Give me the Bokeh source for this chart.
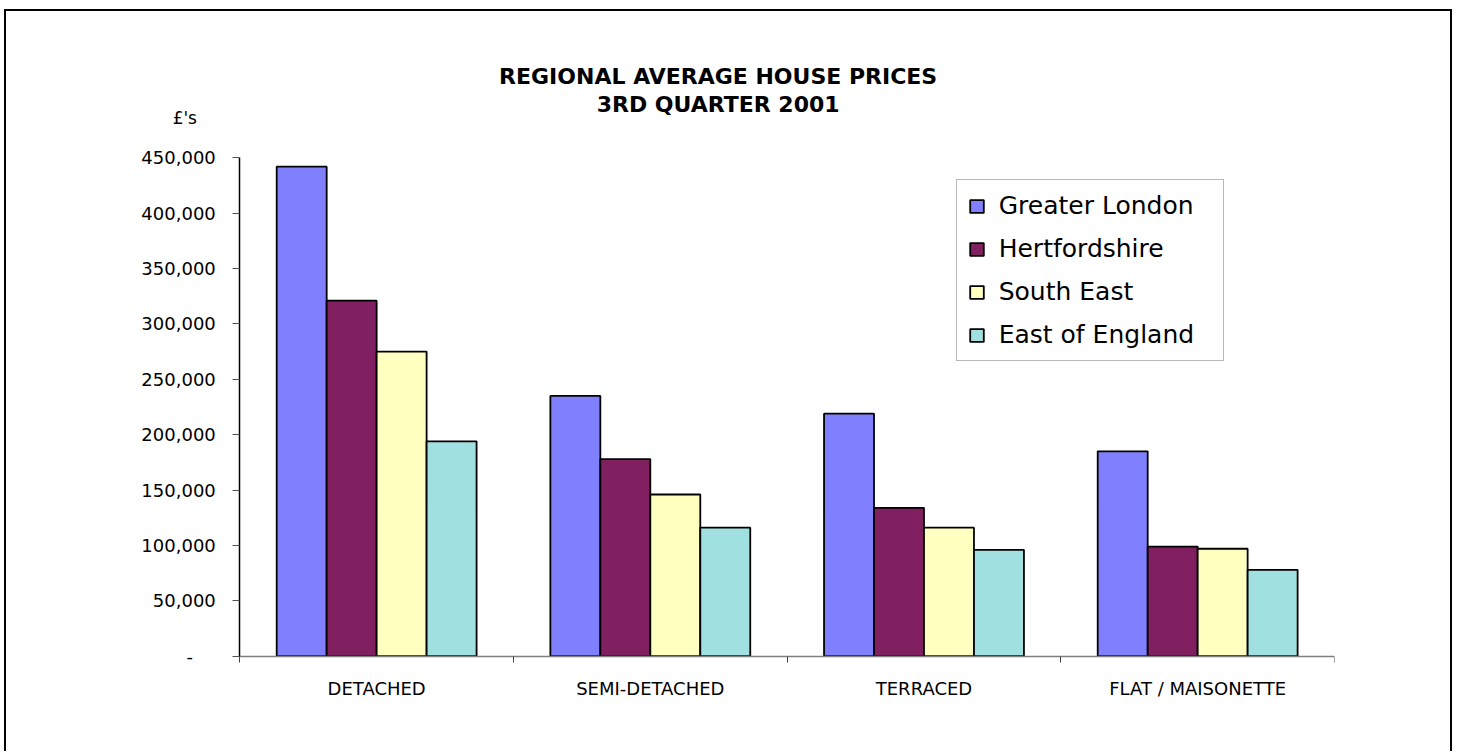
import numpy as np
from bokeh.plotting import figure
from bokeh.models import (ColumnDataSource, Range1d, FixedTicker, NumeralTickFormatter,
                          Legend, LegendItem, Label)
from bokeh.embed import file_html
from bokeh.resources import INLINE

# ---- data ----
categories = ["DETACHED", "SEMI-DETACHED", "TERRACED", "FLAT / MAISONETTE"]
series_names = ["Greater London", "Hertfordshire", "South East", "East of England"]
greater_london = [442000, 235000, 219000, 185000]
hertfordshire = [321000, 178000, 134000, 99000]
south_east = [275000, 146000, 116000, 97000]
east_of_england = [194000, 116000, 96000, 78000]
y_ticks = [0, 50000, 100000, 150000, 200000, 250000, 300000, 350000, 400000, 450000]
title_lines = ["REGIONAL AVERAGE HOUSE PRICES", "3RD QUARTER 2001"]
y_unit = "£'s"

series_values = [greater_london, hertfordshire, south_east, east_of_england]
colors = ["#8080FF", "#802060", "#FFFFC0", "#A0E0E0"]

FONT = "DejaVu Sans"
Y_MAX = 450000
n_cat = len(categories)

# ---- layout geometry (page pixels) ----
CANVAS_X0, CANVAS_Y0 = 6, 11
W, H = 1448, 742
MB_LEFT, MB_RIGHT, MB_TOP, MB_BOTTOM = 114, 120, 29, 46
ZERO_PX, TOP_PX, AXIS_X_PX = 655.7, 157.3, 239.3
frame_left = CANVAS_X0 + MB_LEFT
frame_right = CANVAS_X0 + W - MB_RIGHT
frame_top = CANVAS_Y0 + MB_TOP
frame_bottom = CANVAS_Y0 + H - MB_BOTTOM
x_start = -n_cat * (AXIS_X_PX - frame_left) / (frame_right - AXIS_X_PX)
upp = Y_MAX / (ZERO_PX - TOP_PX)
y_end = (ZERO_PX - frame_top) * upp
y_start = -(frame_bottom - ZERO_PX) * upp

p = figure(width=W, height=H, output_backend="svg", toolbar_location=None,
           x_range=Range1d(x_start, n_cat), y_range=Range1d(y_start, y_end),
           min_border_left=MB_LEFT, min_border_right=MB_RIGHT,
           min_border_top=MB_TOP, min_border_bottom=MB_BOTTOM)
p.styles = {"margin-left": "4px", "margin-top": "9px",
            "border-top": "2px solid black", "border-left": "2px solid black",
            "border-right": "2px solid black"}
p.outline_line_color = None
p.xgrid.visible = False
p.ygrid.visible = False
p.background_fill_color = "white"
p.border_fill_color = "white"

cat_centers = np.arange(n_cat) + 0.5
bw = 0.1826
items = []
for j, (name, vals) in enumerate(zip(series_names, series_values)):
    src = ColumnDataSource(dict(x=cat_centers + (j - 1.5) * bw, top=vals))
    r = p.vbar(x="x", top="top", width=bw, bottom=0, source=src,
               fill_color=colors[j], line_color="black", line_width=1.8)
    items.append(LegendItem(label=name, renderers=[r]))

# x axis: labels at centres, ticks at category boundaries
p.xaxis.fixed_location = 0
p.xaxis.bounds = (0, n_cat)
p.xaxis.ticker = FixedTicker(ticks=list(cat_centers),
                             minor_ticks=list(range(n_cat + 1)))
p.xaxis.major_label_overrides = {float(c): lab for c, lab in zip(cat_centers, categories)}
p.xaxis.major_tick_out = 0
p.xaxis.major_tick_in = 0
p.xaxis.minor_tick_out = 6
p.xaxis.minor_tick_in = 0
p.xaxis.minor_tick_line_color = "#404040"
p.xaxis.axis_line_color = "#808080"
p.xaxis.axis_line_width = 1.5
p.xaxis.major_label_text_font = FONT
p.xaxis.major_label_text_font_size = "18px"
p.xaxis.major_label_text_color = "black"
p.xaxis.major_label_standoff = 16

# y axis
p.yaxis.fixed_location = 0
p.yaxis.bounds = (0, Y_MAX)
p.yaxis.ticker = FixedTicker(ticks=y_ticks)
p.yaxis.formatter = NumeralTickFormatter(format="0,0")
p.yaxis.major_label_overrides = {0: "-\u00a0\u00a0\u00a0\u00a0"}
p.yaxis.axis_line_color = "black"
p.yaxis.axis_line_width = 1.5
p.yaxis.major_tick_out = 7
p.yaxis.major_tick_in = 0
p.yaxis.major_tick_line_color = "#505050"
p.yaxis.minor_tick_line_color = None
p.yaxis.major_label_text_font = FONT
p.yaxis.major_label_text_font_size = "18px"
p.yaxis.major_label_text_color = "black"
p.yaxis.major_label_standoff = 17

# titles
for line, off in zip(title_lines, [81, 53]):
    p.add_layout(Label(x=n_cat / 2, y=Y_MAX, x_offset=-69, y_offset=off, text=line,
                       text_align="center", text_baseline="middle",
                       text_font=FONT, text_font_style="bold",
                       text_font_size="22px", text_color="black"))
p.add_layout(Label(x=0, y=Y_MAX, x_offset=-55, y_offset=40, text=y_unit,
                   text_align="center", text_baseline="middle",
                   text_font=FONT, text_font_size="17px", text_color="black"))

legend = Legend(items=items, location=(955.7 - frame_left, frame_bottom - 361))
legend.padding = 11
legend.spacing = 14
legend.label_height = 29
legend.label_width = 213
legend.glyph_height = 16
legend.glyph_width = 17
legend.label_standoff = 14
legend.label_text_font = FONT
legend.label_text_font_size = "25px"
legend.label_text_color = "black"
legend.border_line_color = "#707070"
legend.border_line_width = 1.5
legend.background_fill_alpha = 1
legend.margin = 0
p.add_layout(legend)

open("out.html", "w").write(file_html(p, INLINE))
